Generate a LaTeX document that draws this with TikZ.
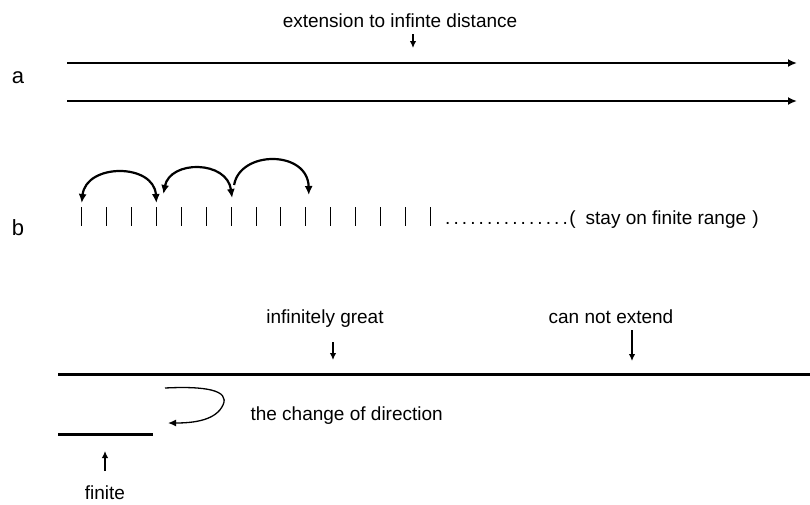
\documentclass[tikz,border=0pt]{standalone}
\usepackage{fontspec}
\setmainfont{Liberation Sans}
\usetikzlibrary{arrows.meta}
\newcommand{\letterfont}{\fontsize{22}{26}\selectfont}
\begin{document}
\begin{tikzpicture}[x=1pt,y=1pt,font=\fontsize{19}{23}\selectfont,
    bigline/.style={line width=2.6pt,-{Latex[length=9pt,width=8pt]}},
    flatline/.style={line width=3pt},
    pointer/.style={line width=1.9pt,-{Latex[length=7pt,width=6.5pt]}},
    tick/.style={line width=0.9pt},
    jump/.style={line width=2.2pt,{Latex[length=9pt,width=8pt]}-{Latex[length=9pt,width=8pt]}},
    jumpone/.style={line width=2.2pt,-{Latex[length=9pt,width=8pt]}},
    turn/.style={line width=1.3pt,-{Latex[length=8pt,width=7pt]}}]
      \useasboundingbox (0,0) rectangle (810,-504);
      \node[font=\letterfont,anchor=base] (lblA) at (18,-83) {a};
      \node[anchor=base] (extTxt) at (400,-27) {extension to infinte distance};
      \coordinate (extTail) at (413,-34);
      \coordinate (extTip) at (413,-48);
      \draw[pointer] (extTail) -- (extTip);
      \foreach \y/\name in {63/aTop,101/aBot} {
        \coordinate (\name-l) at (67,-\y);
        \coordinate (\name-r) at (797,-\y);
        \draw[bigline] (\name-l) -- (\name-r);
      }
      \node[font=\letterfont,anchor=base] (lblB) at (18,-235) {b};
      \foreach \i in {1,...,15} {
        \coordinate (tk\i) at ({81.7+24.9*(\i-1)},-207);
        \draw[tick] (tk\i) -- ++(0,-19);
      }
      \draw[jump] ([yshift=4pt]tk1) .. controls (86,-163) and (154,-163) .. ([yshift=4pt]tk4);
      \draw[jump] ([xshift=7pt,yshift=13pt]tk4) .. controls (170,-160) and (227,-160) .. ([xshift=1pt,yshift=9pt]tk7);
      \draw[jumpone] ([xshift=3pt,yshift=22pt]tk7) .. controls (240,-150) and (308,-150) .. ([xshift=3pt,yshift=12pt]tk10);
      \node[anchor=base west,inner sep=0pt] (stayTxt) at (445,-224)
        {\foreach \d in {1,...,14}{.\hspace{3.1pt}}.\hspace{1.5pt}(\hspace{10pt}stay on finite range \hspace{1pt})};
      \node[anchor=base] (greatTxt) at (325,-323) {infinitely great};
      \coordinate (greatTail) at (333,-342);
      \coordinate (greatTip) at (333,-360);
      \draw[pointer] (greatTail) -- (greatTip);
      \node[anchor=base] (extendTxt) at (611,-323) {can not extend};
      \coordinate (extendTail) at (632,-330);
      \coordinate (extendTip) at (632,-361);
      \draw[pointer] (extendTail) -- (extendTip);
      \coordinate (longL) at (58,-374);
      \coordinate (longR) at (810,-374);
      \draw[flatline] (longL) -- (longR);
      \coordinate (shortL) at (58,-434);
      \coordinate (shortR) at (153,-434);
      \draw[flatline] (shortL) -- (shortR);
      \coordinate (turnStart) at (165,-388);
      \coordinate (turnEnd) at (168,-423);
      \draw[turn] (turnStart) .. controls (205,-386) and (230,-390) .. (223,-405)
        .. controls (216,-420) and (195,-423) .. (turnEnd);
      \node[anchor=base west] (turnTxt) at (247,-420) {the change of direction};
      \node[anchor=base] (finiteTxt) at (105,-499) {finite};
      \coordinate (finiteTail) at (105,-471);
      \coordinate (finiteTip) at (105,-451);
      \draw[pointer] (finiteTail) -- (finiteTip);
    \end{tikzpicture}
\end{document}
